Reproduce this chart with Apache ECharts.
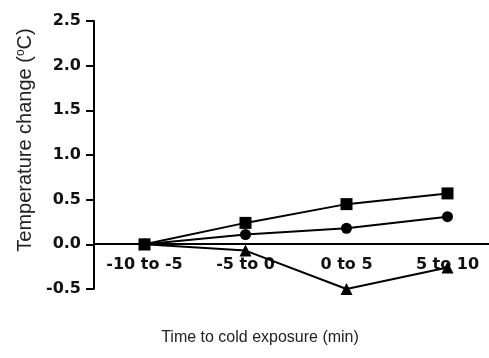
<!DOCTYPE html>
<html><head><meta charset="utf-8">
<script src="https://cdn.jsdelivr.net/npm/echarts@6/dist/echarts.min.js"></script>
<style>html,body{margin:0;padding:0;background:#fff}#c{width:489px;height:358px}</style>
</head><body><div id="c"></div>
<script>
const categories = ['-10 to -5', '-5 to 0', '0 to 5', '5 to 10'];
const squares = [0, 0.24, 0.45, 0.57];
const circles = [0, 0.11, 0.18, 0.31];
const triangles = [0, -0.07, -0.50, -0.26];
const yTicks = [-0.5, 0.0, 0.5, 1.0, 1.5, 2.0, 2.5];

const chart = echarts.init(document.getElementById('c'));
const lineStyle = {color: '#000', width: 2};
function mk(data, symbol, size) {
  return {type: 'line', data: data, symbol: symbol, symbolSize: size, showAllSymbol: true,
    lineStyle: lineStyle, itemStyle: {color: '#000'}, z: 5};
}
chart.setOption({
  animation: false,
  grid: {left: 94, right: -9, top: 21, bottom: 69, containLabel: false, outerBoundsMode: 'none'},
  xAxis: {
    type: 'category', data: categories, boundaryGap: true, offset: -45,
    axisLine: {onZero: false, lineStyle: {color: '#000', width: 2}},
    axisTick: {alignWithLabel: true, length: 6, lineStyle: {color: '#000', width: 2}},
    axisLabel: {color: '#111', fontFamily: 'DejaVu Sans', fontWeight: 'bold', fontSize: 16, margin: 13},
    name: 'Time to cold exposure (min)', nameLocation: 'middle', nameGap: 86,
    nameTextStyle: {color: '#222', fontFamily: 'Liberation Sans', fontSize: 16, padding: [0, 72, 0, 0]}
  },
  yAxis: {
    type: 'value', min: -0.5, max: 2.5, interval: 0.5,
    axisLine: {show: true, onZero: false, lineStyle: {color: '#000', width: 2}},
    axisTick: {show: true, length: 8, lineStyle: {color: '#000', width: 2}},
    splitLine: {show: false},
    axisLabel: {color: '#111', fontFamily: 'DejaVu Sans', fontWeight: 'bold', fontSize: 16, margin: 13,
      formatter: v => v.toFixed(1)},
    name: '{a|Temperature change (}{s|o}{a|C)}', nameLocation: 'middle', nameGap: 51,
    nameTextStyle: {padding: [0, 0, 0, 30], rich: {
      a: {color: '#222', fontFamily: 'Liberation Sans', fontSize: 20},
      s: {color: '#222', fontFamily: 'Liberation Sans', fontSize: 12, verticalAlign: 'top', padding: [0, 0, 8, 0]}
    }}
  },
  series: [mk(squares, 'rect', 12), mk(circles, 'circle', 11), mk(triangles, 'triangle', 12)]
});
</script></body></html>
